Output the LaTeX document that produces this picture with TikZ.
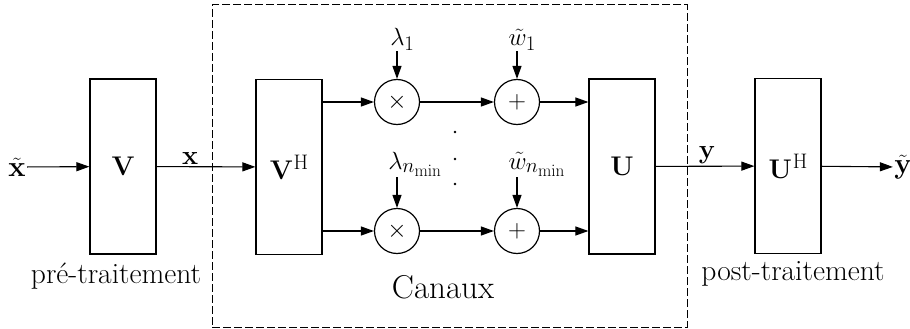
\documentclass[tikz,border=0pt]{standalone}
\usetikzlibrary{arrows.meta}
\begin{document}
\begin{tikzpicture}[x=1pt,y=-1pt,
  >={Triangle[length=13pt,width=9pt]},
  line width=1.1pt,
  blk/.style={draw, line width=1.2pt, minimum width=66pt, minimum height=175pt, inner sep=0,
    font=\fontsize{27}{32}\selectfont\bfseries},
  op/.style={draw, circle, line width=1.2pt, minimum size=45pt, inner sep=0,
    font=\fontsize{26}{30}\selectfont},
  lbl/.style={font=\fontsize{27}{32}\selectfont\bfseries, inner sep=2pt},
  iolbl/.style={font=\fontsize{29}{34}\selectfont\bfseries, inner sep=1pt},
  sym/.style={font=\fontsize{24.88}{30}\selectfont, inner sep=0, anchor=base west},
  captxt/.style={font=\fontsize{29.5}{34}\selectfont, inner sep=0, anchor=base},
  frame/.style={draw, line width=1pt, dash pattern=on 8pt off 3pt}]
\useasboundingbox (0,0) rectangle (910,329);

% channel frame
\node[frame, minimum width=475pt, minimum height=322pt, inner sep=0] (chan) at (449.5,166) {};

% blocks
\node[blk] (V) at (123,166.5) {V};
\node[blk] (VH) at (289,167) {V\kern1pt\raisebox{10pt}{\mdseries\fontsize{21}{24}\selectfont H}};
\node[blk] (U) at (622,166.5) {U};
\node[blk] (UH) at (788,166) {U\kern1pt\raisebox{10pt}{\mdseries\fontsize{21}{24}\selectfont H}};

% input / output
\node[iolbl] (xt) at (17,167) {$\tilde{\textbf{x}}$};
\node[iolbl] (yt) at (903,167) {$\tilde{\textbf{y}}$};

% operators
\node[op] (m1) at (397,102) {$\times$};
\node[op] (p1) at (517,102) {$+$};
\node[op] (m2) at (397,231) {$\times$};
\node[op] (p2) at (517,231) {$+$};

% side inputs
\node[sym] (l1) at (389.7,46) {$\lambda_1$};
\node[sym] (w1) at (508,46) {$\tilde{w}_1$};
\node[sym] (l2) at (387.7,169) {$\lambda_{n_{\min}}$};
\node[sym] (w2) at (508,169) {$\tilde{w}_{n_{\min}}$};

% dots
\fill (455,132) circle (1.3pt);
\fill (455,159) circle (1.3pt);
\fill (455,184) circle (1.3pt);

% connectors
\draw[->] (xt) -- (V);
\draw[->] (V) -- node[lbl, above, pos=0.34] {x} (VH);
\draw[->] (VH.east |- m1) -- (m1);
\draw[->] (VH.east |- m2) -- (m2);
\draw[->] (m1) -- (p1);
\draw[->] (m2) -- (p2);
\draw[->] (p1) -- (U.west |- p1);
\draw[->] (p2) -- (U.west |- p2);
\draw[->] (U) -- node[lbl, above, pos=0.52] {y} (UH);
\draw[->] (UH) -- (yt);
\draw[->] (l1.south -| m1) -- (m1);
\draw[->] (w1.south -| p1) -- (p1);
\draw[->] (l2.south -| m2) -- (m2);
\draw[->] (w2.south -| p2) -- (p2);

% captions
\node[captxt] (pre) at (116,283) {pré-traitement};
\node[captxt] (post) at (793,280) {post-traitement};
\node[captxt, font=\fontsize{33}{38}\selectfont] (can) at (443,298) {Canaux};
\end{tikzpicture}
\end{document}
